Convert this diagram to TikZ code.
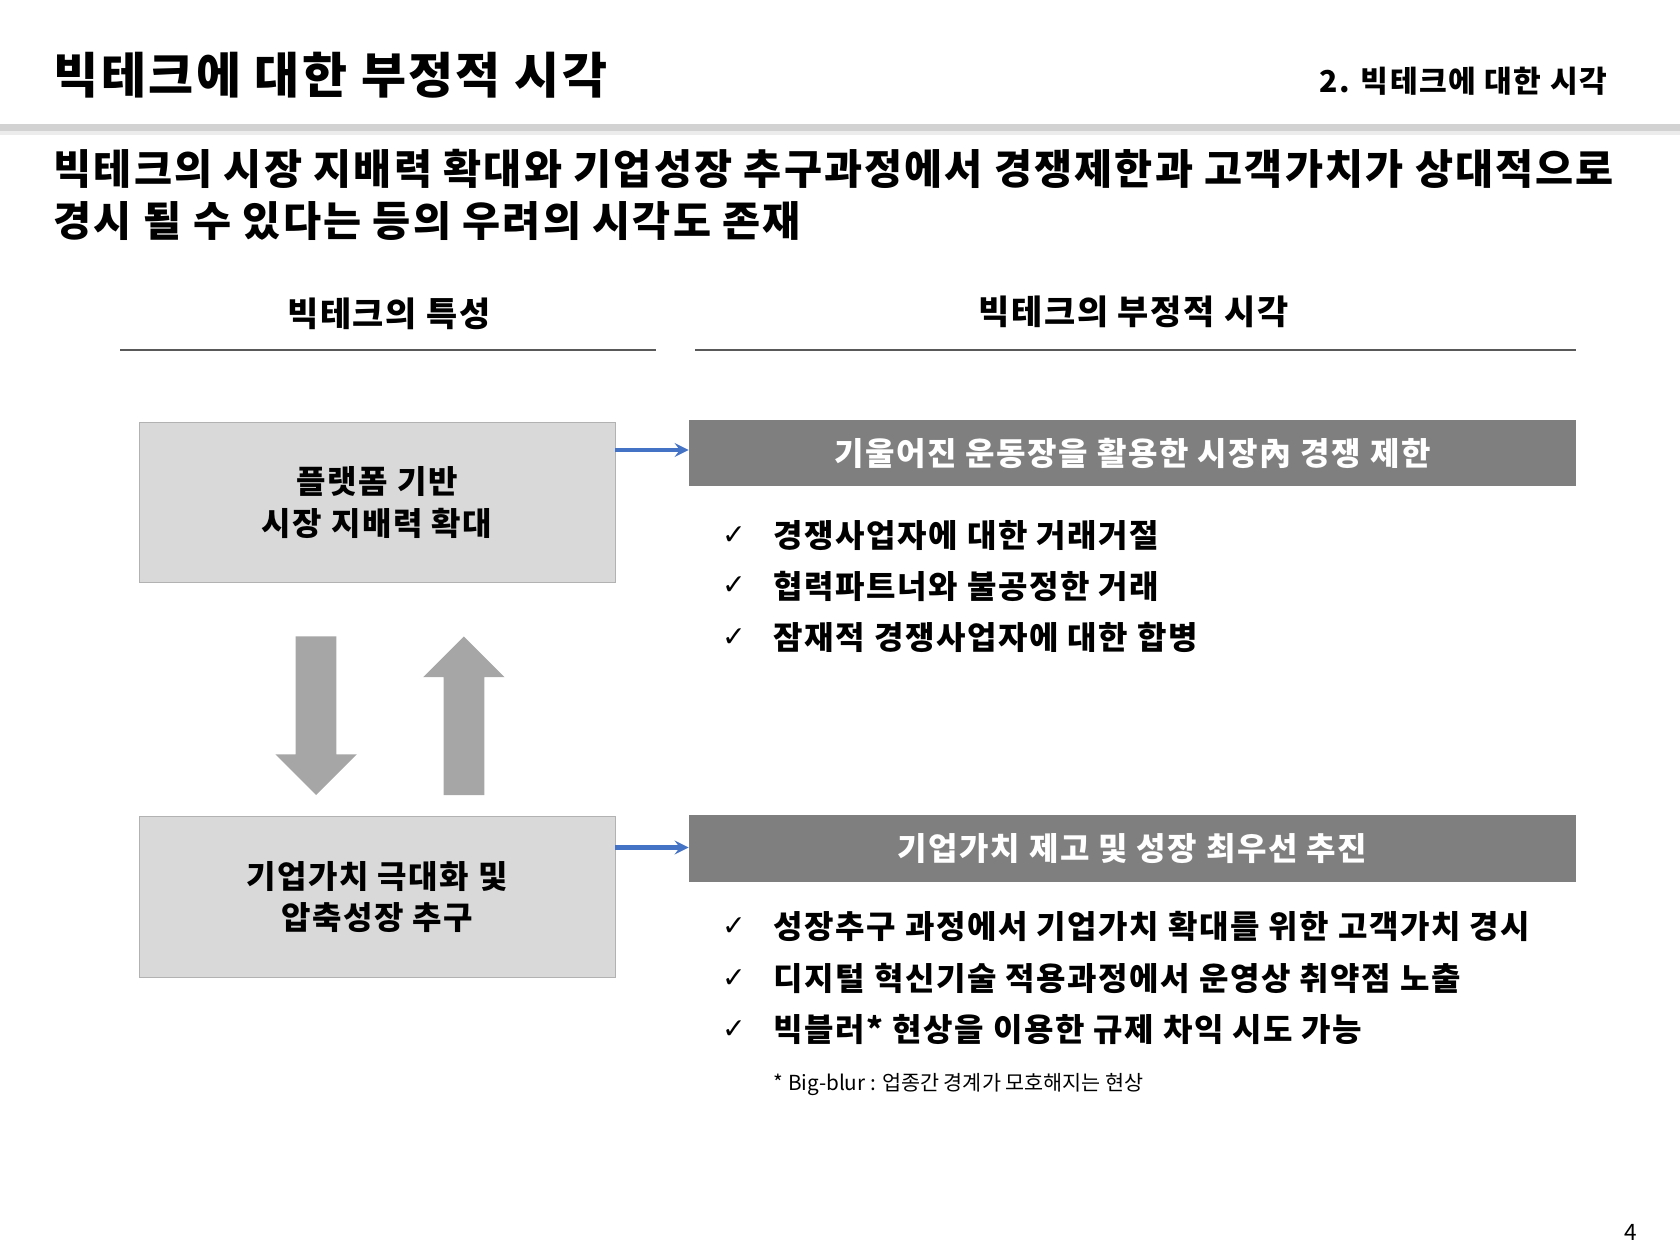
\documentclass[tikz,border=0pt]{standalone}
\usepackage{fontspec}
\setmainfont[LetterSpace=5]{Noto Sans CJK KR}
\newfontfamily\symfont{DejaVu Sans}
\newfontfamily\notefont{Noto Sans CJK KR}
\usetikzlibrary{positioning}
\definecolor{boxgray}{HTML}{D9D9D9}
\definecolor{bargray}{HTML}{7F7F7F}
\definecolor{blockgray}{HTML}{A6A6A6}
\definecolor{linkblue}{HTML}{4472C4}

\begin{document}
\begin{tikzpicture}[
    x=0.02cm, y=-0.02cm,
    featbox/.style={rectangle, draw=gray!60, fill=boxgray, minimum width=8.88cm, minimum height=3.0cm, align=center, font=\bfseries\fontsize{17}{22}\selectfont},
    viewbar/.style={rectangle, fill=bargray, minimum width=16.56cm, minimum height=1.24cm, text=white, font=\bfseries\fontsize{17}{20}\selectfont},
    item/.style={anchor=west, font=\bfseries\fontsize{17}{20}\selectfont},
    check/.style={anchor=center, font=\symfont\fontsize{15}{18}\selectfont},
    head/.style={font=\bfseries\fontsize{18}{22}\selectfont},
    arrow/.style={->, >=stealth, line width=2.2pt, linkblue}
]
    \useasboundingbox (0,0) rectangle (1568,1176);
    % Title
    \node[anchor=west, font=\bfseries\fontsize{26}{30}\selectfont] (title) at (44,70) {빅테크에 대한 부정적 시각};
    \node[anchor=east, font=\bfseries\fontsize{16}{20}\selectfont] (section) at (1506,76) {2. 빅테크에 대한 시각};
    \fill[gray!35] (0,116) rectangle (1568,122);
    \fill[gray!15] (0,122) rectangle (1568,126);

    % Lead
    \node[anchor=west, align=left, font=\bfseries\fontsize{22}{27.5}\selectfont] (lead) at (44,182)
        {빅테크의 시장 지배력 확대와 기업성장 추구과정에서 경쟁제한과 고객가치가 상대적으로\\경시 될 수 있다는 등의 우려의 시각도 존재};

    % Column heads
    \node[head] (lefthead) at (363,293) {빅테크의 특성};
    \node[head] (righthead) at (1058,291) {빅테크의 부정적 시각};
    \draw[gray!70!black, line width=1.2pt] (112,327) -- (612,327);
    \draw[gray!70!black, line width=1.2pt] (649,327) -- (1471,327);

    % Feature boxes
    \node[featbox] (platform) at (352,469) {플랫폼 기반\\시장 지배력 확대};
    \node[featbox] (value) at (352,837) {기업가치 극대화 및\\압축성장 추구};

    % Block arrows
    \fill[blockgray] (276,594) -- (314,594) -- (314,704) -- (333,704) -- (295,742) -- (257,704) -- (276,704) -- cycle;
    \fill[blockgray] (414,742) -- (452,742) -- (452,632) -- (471,632) -- (433,594) -- (395,632) -- (414,632) -- cycle;

    % Negative views
    \node[viewbar] (tilted) at (1057,423) {기울어진 운동장을 활용한 시장內 경쟁 제한};
    \node[viewbar] (growth) at (1057,792) {기업가치 제고 및 성장 최우선 추진};

    \draw[arrow] (platform.east |- 0,420) -- (tilted.west |- 0,420);
    \draw[arrow] (value.east |- 0,791) -- (growth.west |- 0,791);

    % Items
    \foreach \y/\t in {500/경쟁사업자에 대한 거래거절, 547/협력파트너와 불공정한 거래, 595/잠재적 경쟁사업자에 대한 합병,
                       865/성장추구 과정에서 기업가치 확대를 위한 고객가치 경시, 913/디지털 혁신기술 적용과정에서 운영상 취약점 노출, 961/빅블러* 현상을 이용한 규제 차익 시도 가능}{
        \node[check] at (685,\y) {✓};
        \node[item] at (716,\y) {\t};
    }
    \node[anchor=west, font=\notefont\fontsize{11}{13}\selectfont] (note) at (716,1012) {* Big-blur : 업종간 경계가 모호해지는 현상};
    \node[font=\fontsize{12}{14}\selectfont] (page) at (1522,1150) {4};
\end{tikzpicture}
\end{document}
